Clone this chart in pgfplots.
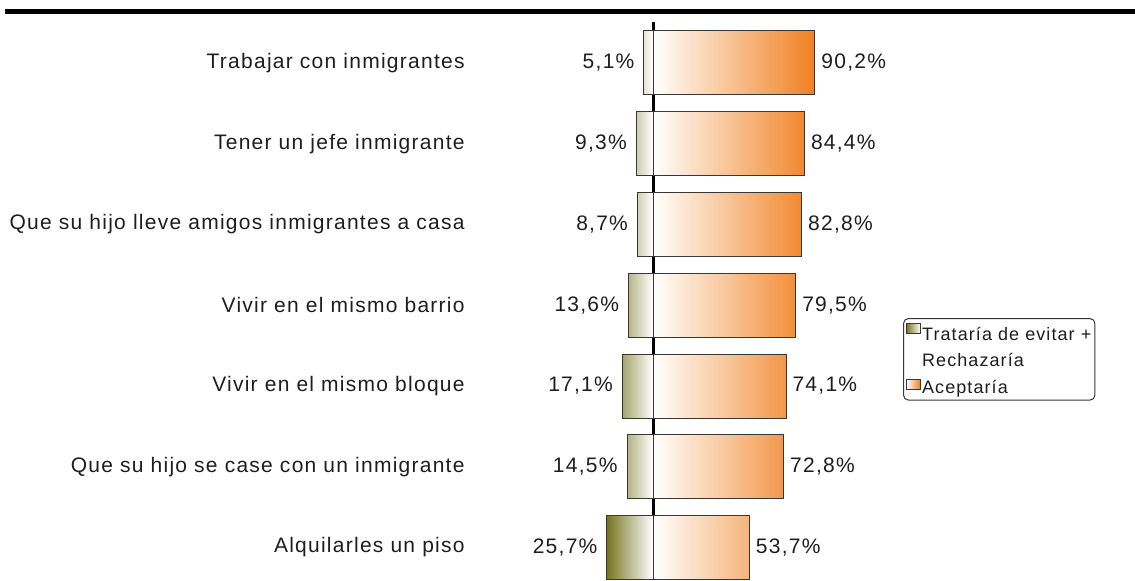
\documentclass[border=0pt]{standalone}
\usepackage{fontspec}
\setmainfont{Liberation Sans}[LetterSpace=6]
\usepackage{pgfplots}
\pgfplotsset{compat=1.18}
\usepackage{pgfplotstable}
\definecolor{olv}{RGB}{118,118,34}
\definecolor{orng}{RGB}{240,128,32}
\definecolor{txt}{RGB}{30,30,30}
\definecolor{edge}{RGB}{55,55,55}

\pgfplotstableread{
y lo hi
0 5.1 90.2
1 9.3 84.4
2 8.7 82.8
3 13.6 79.5
4 17.1 74.1
5 14.5 72.8
6 25.7 53.7
}\data

\begin{document}
\begin{tikzpicture}[x=1pt,y=1pt]
\useasboundingbox (0,0) rectangle (567.5,290);
\begin{axis}[
  at={(0pt,0pt)}, anchor=south west,
  scale only axis, width=567.5pt, height=290pt,
  xmin=-363.8, xmax=268.5,
  ymin=-0.780, ymax=6.402, y dir=reverse,
  hide x axis,
  axis line style={draw=none},
  major tick length=0pt,
  ytick={0,...,6},
  yticklabels={Trabajar con inmigrantes, Tener un jefe inmigrante, Que su hijo lleve amigos inmigrantes a casa, Vivir en el mismo barrio, Vivir en el mismo bloque, Que su hijo se case con un inmigrante, Alquilarles un piso},
  yticklabel style={anchor=east, inner sep=0pt, xshift=232.5pt, font=\fontsize{10.5pt}{12.5pt}\selectfont, text=txt},
  xbar, bar width=0.7926, bar shift=0pt,
  clip=false,
  point meta=explicit,
  nodes near coords={\pgfmathprintnumber{\pgfplotspointmeta}\%},
  every node near coord/.append style={font=\fontsize{10.5pt}{12.5pt}\selectfont, text=txt, inner sep=0pt},
  /pgf/number format/use comma, /pgf/number format/fixed, /pgf/number format/fixed zerofill, /pgf/number format/precision=1, /pgf/number format/assume math mode=true,
  legend cell align=left,
  legend style={at={(0.7956,0.4517)}, anchor=north west, draw=edge, line width=0.5pt, rounded corners=2.5pt, fill=white,
    font=\fontsize{9pt}{13pt}\selectfont, text=txt, inner sep=1.2pt, row sep=17pt, column sep=0pt,
    nodes={inner sep=0.6pt}},
]
\draw[line width=1.5pt, black] (axis cs:0,-0.508) -- (axis cs:0,6.402);
\addplot[draw=edge, line width=0.5pt, left color=olv, right color=white,
  every node near coord/.append style={anchor=east, xshift=-4.5pt},
  legend image code/.code={\shade[sharp corners, draw=edge, line width=0.5pt, left color=olv, right color=white] (0pt,-0.3pt) rectangle (7pt,4.7pt);}]
  table[x expr=-\thisrow{lo}, y=y, meta=lo] {\data};
\addlegendentry{\begin{tabular}[t]{@{}l@{}}Trataría de evitar +\\Rechazaría\end{tabular}}
\addplot[draw=edge, line width=0.5pt, left color=white, right color=orng,
  every node near coord/.append style={anchor=west, xshift=3pt},
  legend image code/.code={\shade[sharp corners, draw=edge, line width=0.5pt, left color=white, right color=orng] (0pt,-0.3pt) rectangle (7pt,4.7pt);}]
  table[x=hi, y=y, meta=hi] {\data};
\addlegendentry{Aceptaría}
\draw[line width=2.5pt, black] (rel axis cs:0.0044,0.9802) -- (rel axis cs:1,0.9802);
\end{axis}
\end{tikzpicture}
\end{document}
